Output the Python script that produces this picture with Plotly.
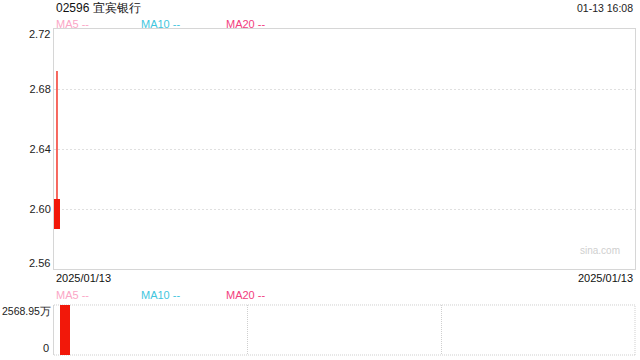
import plotly.graph_objects as go

# ---- data ----
dates = ["2025/01/13"]
opens = [2.587]
closes = [2.607]
highs = [2.692]
lows = [2.587]
volumes = [2568.95]  # 万
price_ticks = [2.60, 2.64, 2.68]
price_range = [2.56, 2.72]
title = "02596 宜宾银行"
stamp = "01-13 16:08"
ma_labels = ["MA5 --", "MA10 --", "MA20 --"]
ma_colors = ["#fba6c6", "#3fc6de", "#f2407e"]

UP = "#f2180a"
FONT = "Liberation Sans, Arial, sans-serif"
GRID = "#e0e0e0"
VGRID = "#cfcfcf"
BORDER = "#d6d6d6"

idx = list(range(len(dates)))

fig = go.Figure()

# wick
for i in idx:
    fig.add_trace(go.Scatter(x=[i, i], y=[lows[i], highs[i]], mode="lines",
                             line=dict(color=UP, width=1.3), hoverinfo="skip",
                             xaxis="x", yaxis="y"))
# body
fig.add_trace(go.Bar(x=idx, base=opens, y=[c - o for o, c in zip(opens, closes)],
                     width=1, marker=dict(color=UP, line=dict(width=0)),
                     xaxis="x", yaxis="y"))
# volume
fig.add_trace(go.Bar(x=idx, y=volumes, width=1,
                     marker=dict(color=UP, line=dict(width=0)),
                     xaxis="x2", yaxis="y2"))

vr = [-1.1, 57.0]
vgrid = [vr[0] + (vr[1] - vr[0]) / 3, vr[0] + 2 * (vr[1] - vr[0]) / 3]

fig.update_layout(
    width=640, height=360,
    margin=dict(l=54, r=5, t=29, b=5),
    paper_bgcolor="white", plot_bgcolor="white",
    showlegend=False, bargap=0,
    font=dict(family=FONT, size=11, color="#222"),
    xaxis=dict(domain=[0, 1], range=[-0.5, 96.5], showticklabels=False,
               showgrid=False, zeroline=False, ticks="",
               showline=True, mirror=True, linecolor=BORDER, linewidth=1,
               fixedrange=True),
    yaxis=dict(domain=[0.2638, 1], range=price_range, tickvals=price_ticks,
               ticktext=[f"{v:.2f}" for v in price_ticks],
               showgrid=True, gridcolor=GRID, griddash="2px,2px", gridwidth=1,
               zeroline=False, ticks="", ticklen=0,
               showline=True, mirror=True, linecolor=BORDER, linewidth=1,
               tickfont=dict(size=11, color="#222")),
    xaxis2=dict(domain=[0, 1], anchor="y2", range=vr, tickvals=vgrid,
                showticklabels=False, showgrid=True, gridcolor=VGRID,
                griddash="1px,1px", zeroline=False, ticks="", showline=False),
    yaxis2=dict(domain=[0, 0.1534], anchor="x2", range=[0, volumes[0]],
                showticklabels=False, showgrid=False,
                zeroline=False, ticks="", showline=True, linecolor=BORDER,
                linewidth=1),
)

# dotted frame of the volume panel (top, bottom, right)
for (x0, y0, x1, y1) in [(0, 1, 1, 1), (0, 0, 1, 0), (1, 0, 1, 1)]:
    fig.add_shape(type="line", xref="x2 domain", yref="y2 domain",
                  x0=x0, y0=y0, x1=x1, y1=y1, layer="below",
                  line=dict(color=VGRID, width=1, dash="1px,1px"))

ann = []
ann.append(dict(text=title, xref="paper", yref="paper", x=0, y=1, xanchor="left",
                yanchor="middle", yshift=21, xshift=0, showarrow=False,
                font=dict(size=12, color="#111")))
ann.append(dict(text=stamp, xref="paper", yref="paper", x=1, y=1, xanchor="right",
                yanchor="middle", yshift=21, xshift=0, showarrow=False,
                font=dict(size=10.5, color="#222")))
offsets = [0, 85, 170]
for lab, col, off in zip(ma_labels, ma_colors, offsets):
    ann.append(dict(text=lab, xref="paper", yref="paper", x=0, y=1, xanchor="left",
                    yanchor="middle", yshift=5, xshift=off, showarrow=False,
                    font=dict(size=11, color=col)))
    ann.append(dict(text=lab, xref="paper", yref="y2 domain", x=0, y=1, xanchor="left",
                    yanchor="middle", yshift=10, xshift=off, showarrow=False,
                    font=dict(size=11, color=col)))
# edge price labels
ann.append(dict(text=f"{price_range[1]:.2f}", xref="paper", yref="y", x=0, y=price_range[1],
                xanchor="right", yanchor="middle", xshift=-2, yshift=-5, showarrow=False,
                font=dict(size=11, color="#222")))
ann.append(dict(text=f"{price_range[0]:.2f}", xref="paper", yref="y", x=0, y=price_range[0],
                xanchor="right", yanchor="middle", xshift=-2, yshift=6, showarrow=False,
                font=dict(size=11, color="#222")))
# volume labels
ann.append(dict(text=f"{volumes[0]:.2f}万", xref="paper", yref="y2", x=0, y=volumes[0],
                xanchor="right", yanchor="middle", xshift=-1, yshift=-6, showarrow=False,
                font=dict(size=10.5, color="#222")))
ann.append(dict(text="0", xref="paper", yref="y2", x=0, y=0,
                xanchor="right", yanchor="middle", xshift=-3, yshift=7, showarrow=False,
                font=dict(size=11, color="#222")))
# date labels
ann.append(dict(text=dates[0], xref="paper", yref="y domain", x=0, y=0, xanchor="left",
                yanchor="middle", yshift=-9, showarrow=False,
                font=dict(size=11, color="#111")))
ann.append(dict(text=dates[-1], xref="paper", yref="y domain", x=1, y=0, xanchor="right",
                yanchor="middle", yshift=-9, showarrow=False,
                font=dict(size=11, color="#111")))
ann.append(dict(text="sina.com", xref="paper", yref="y domain", x=1, y=0, xanchor="right",
                yanchor="middle", yshift=19, xshift=-13, showarrow=False,
                font=dict(size=10, color="#cfcfcf")))
fig.update_layout(annotations=ann)

fig.write_html("out.html")
